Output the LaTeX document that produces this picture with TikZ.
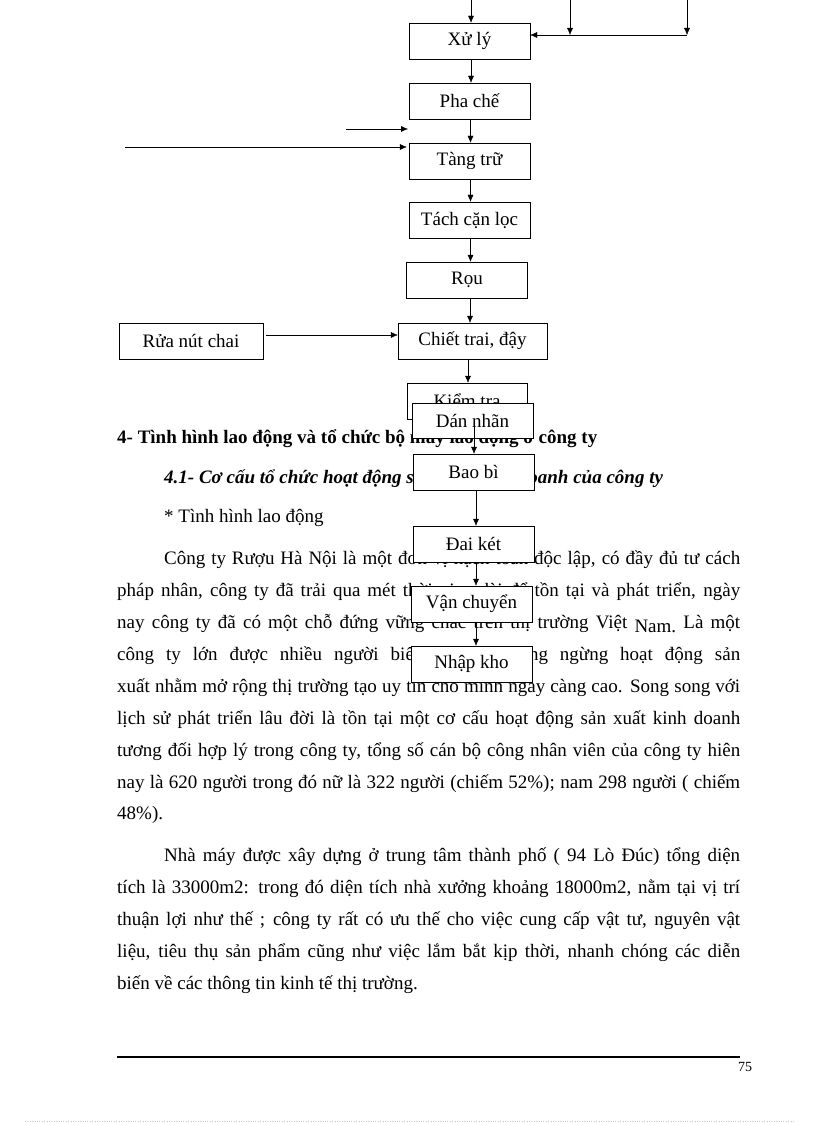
\documentclass[tikz,border=0pt]{standalone}
\usepackage{fontspec}
\setmainfont{Liberation Serif}
\usepackage{tikz}
\usetikzlibrary{arrows.meta}

\begin{document}
\begin{tikzpicture}[x=1pt,y=-1pt,>={Latex[length=7pt,width=6pt]},
    font=\fontsize{19}{22}\selectfont,
    stage/.style={draw,fill=white,inner sep=0pt,minimum height=36pt},
    txt/.style={anchor=base west,inner sep=0pt}]
        \useasboundingbox (0,0) rectangle (816,1123);
        % page text
        \node[txt] (h1) at (117,443) {\bfseries 4- Tình hình lao động và tổ chức bộ máy lao động ở công ty};
        \node[txt] (h2) at (164,483) {\bfseries\itshape 4.1- Cơ cấu tổ chức hoạt động sản xuất kinh doanh của công ty};
        \node[txt] (h3) at (164,522) {* Tình hình lao động};
        \node[txt] (p1) at (164,564) {\makebox[576pt][s]{Công ty Rượu Hà Nội là một đơn vị hạch toán độc lập, có đầy đủ tư cách}};
        \node[txt] (p2) at (117,596) {\makebox[623pt][s]{pháp nhân, công ty đã trải qua mét thời gian dài để tồn tại và phát triển, ngày}};
        \node[txt] (p3) at (117,628) {\makebox[623pt][s]{nay công ty đã có một chỗ đứng vững chắc trên thị trường Việt \raisebox{-4pt}{Nam.} Là một}};
        \node[txt] (p4) at (117,660) {\makebox[623pt][s]{công ty lớn được nhiều người biết đến và không ngừng hoạt động sản}};
        \node[txt] (p5) at (117,692) {\makebox[623pt][s]{xuất nhằm mở rộng thị trường tạo uy tín cho mình ngày càng cao. Song song với}};
        \node[txt] (p6) at (117,724) {\makebox[623pt][s]{lịch sử phát triển lâu đời là tồn tại một cơ cấu hoạt động sản xuất kinh doanh}};
        \node[txt] (p7) at (117,756) {\makebox[623pt][s]{tương đối hợp lý trong công ty, tổng số cán bộ công nhân viên của công ty hiên}};
        \node[txt] (p8) at (117,788) {\makebox[623pt][s]{nay là 620 người trong đó nữ là 322 người (chiếm 52\%); nam 298 người ( chiếm}};
        \node[txt] (p9) at (117,819) {48\%).};
        \node[txt] (q1) at (164,861) {\makebox[576pt][s]{Nhà máy được xây dựng ở trung tâm thành phố ( 94 Lò Đúc) tổng diện}};
        \node[txt] (q2) at (117,893) {\makebox[623pt][s]{tích là 33000m2: trong đó diện tích nhà xưởng khoảng 18000m2, nằm tại vị trí}};
        \node[txt] (q3) at (117,925) {\makebox[623pt][s]{thuận lợi như thế ; công ty rất có ưu thế cho việc cung cấp vật tư, nguyên vật}};
        \node[txt] (q4) at (117,957) {\makebox[623pt][s]{liệu, tiêu thụ sản phẩm cũng như việc lắm bắt kịp thời, nhanh chóng các diễn}};
        \node[txt] (q5) at (117,989) {biến về các thông tin kinh tế thị trường.};
        % footer
        \coordinate (f1) at (117,1057);
        \coordinate (f2) at (740,1057);
        \draw[line width=2pt] (f1) -- (f2);
        \node[txt,font=\fontsize{14}{16}\selectfont] (pg) at (738,1071) {75};
        \coordinate (e1) at (25,1121);
        \coordinate (e2) at (795,1121);
        \draw[gray!40,dotted] (e1) -- (e2);
        % process boxes
        \node[stage,minimum width=121pt] (xuly) at (469.5,41) {Xử lý};
        \node[stage,minimum width=121pt] (phache) at (469.5,101) {Pha chế};
        \node[stage,minimum width=121pt] (tangtru) at (469.5,161) {Tàng trữ};
        \node[stage,minimum width=121pt] (tachcan) at (469.5,220) {Tách cặn lọc};
        \node[stage,minimum width=121pt] (ruou) at (467,280) {Rọu};
        \node[stage,minimum width=149pt] (chiet) at (472.5,341) {Chiết trai, đậy};
        \node[stage,minimum width=144pt] (ruanut) at (191,341) {Rửa nút chai};
        \node[stage,minimum width=120pt] (kiemtra) at (467,401) {Kiểm tra};
        \node[stage,minimum width=121pt,minimum height=35pt] (dannhan) at (472.5,420.5) {Dán nhãn};
        \node[stage,minimum width=121pt] (baobi) at (473.5,472) {Bao bì};
        \node[stage,minimum width=121pt] (daiket) at (473.5,544) {Đai két};
        \node[stage,minimum width=121pt] (vanchuyen) at (471.5,604) {Vận chuyển};
        \node[stage,minimum width=121pt] (nhapkho) at (471.5,664) {Nhập kho};
        % inputs from above
        \coordinate (feed) at (471,0);
        \coordinate (in1) at (570,0);
        \coordinate (in2) at (687,0);
        \coordinate (j1) at (570,35);
        \coordinate (j2) at (687,35);
        \draw[->] (feed) -- (feed |- xuly.north);
        \draw[->] (in1) -- (j1);
        \draw[->] (in2) -- (j2);
        \draw[->] (j2) -- ([yshift=6pt]xuly.east);
        % inputs from the left
        \coordinate (s1) at (346,129);
        \coordinate (s2) at (408,129);
        \coordinate (s3) at (125,147);
        \draw[->] (s1) -- (s2);
        \draw[->] (s3) -- ([yshift=14pt,xshift=-2pt]tangtru.west);
        \draw[->,shorten <=3pt] ([yshift=6pt]ruanut.east) -- ([yshift=6pt]chiet.west);
        % main line
        \draw[->] ([xshift=1.5pt]xuly.south) -- ([xshift=1.5pt]phache.north);
        \draw[->] ([xshift=1pt]phache.south) -- ([xshift=1pt]tangtru.north);
        \draw[->] ([xshift=1pt]tangtru.south) -- ([xshift=1pt]tachcan.north);
        \draw[->] ([xshift=1pt]tachcan.south) -- ([xshift=3.5pt]ruou.north);
        \draw[->] ([xshift=3pt]ruou.south) -- ([xshift=-2.5pt]chiet.north);
        \draw[->] ([xshift=-4.5pt]chiet.south) -- ([xshift=1pt]kiemtra.north);
        \draw[->] ([xshift=7pt]kiemtra.south) -- ([xshift=0.5pt]baobi.north);
        \draw[->] ([xshift=2.5pt]baobi.south) -- ([xshift=2.5pt]daiket.north);
        \draw[->] ([xshift=2.5pt]daiket.south) -- ([xshift=4.5pt]vanchuyen.north);
        \draw[->] ([xshift=4.5pt]vanchuyen.south) -- ([xshift=4.5pt]nhapkho.north);
\end{tikzpicture}
\end{document}
